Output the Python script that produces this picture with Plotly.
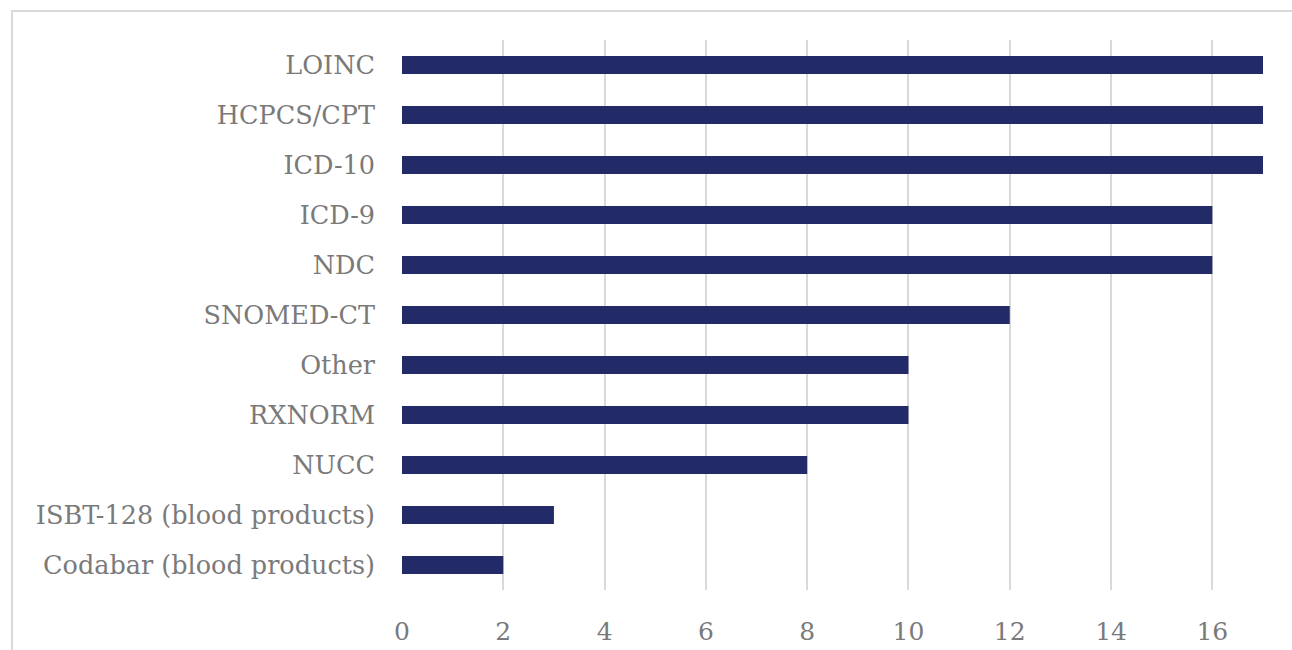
import plotly.graph_objects as go

categories = ["Codabar (blood products)", "ISBT-128 (blood products)", "NUCC", "RXNORM",
              "Other", "SNOMED-CT", "NDC", "ICD-9", "ICD-10", "HCPCS/CPT", "LOINC"]
values = [2, 3, 8, 10, 10, 12, 16, 16, 17, 17, 17]
x_ticks = [0, 2, 4, 6, 8, 10, 12, 14, 16]

W, H = 1292, 650
L, R, T, B = 402, 1263, 40, 590

fig = go.Figure(go.Bar(
    x=values, y=categories, orientation="h",
    marker=dict(color="#222B67", line=dict(width=0)),
    width=0.36,
))

pw, ph = R - L, B - T
fig.add_shape(type="rect", xref="paper", yref="paper",
              x0=(12 - L) / pw, x1=(1400 - L) / pw,
              y0=(B - 700) / ph, y1=(B - 11) / ph,
              line=dict(color="#D9D9D9", width=2), layer="below")

font_family = "DejaVu Serif, Liberation Serif, serif"
grey = "#7A7A7A"
fig.update_layout(
    width=W, height=H,
    margin=dict(l=L, r=W - R, t=T, b=H - B, autoexpand=False),
    paper_bgcolor="white", plot_bgcolor="white",
    showlegend=False,
    font=dict(family=font_family, color=grey),
    xaxis=dict(range=[0, 17], tickvals=x_ticks, showgrid=True, gridcolor="#D9D9D9",
               gridwidth=2, zeroline=False, showline=False, automargin=False,
               tickfont=dict(size=25, color=grey), ticks="", ticklabelstandoff=24),
    yaxis=dict(categoryorder="array", categoryarray=categories, showgrid=False,
               zeroline=False, showline=False, ticks="", automargin=False,
               tickfont=dict(size=25.5, color=grey), ticklabelstandoff=26,
               range=[-0.5, 10.5]),
)
fig.update_xaxes(layer="below traces")

fig.write_html("out.html")
